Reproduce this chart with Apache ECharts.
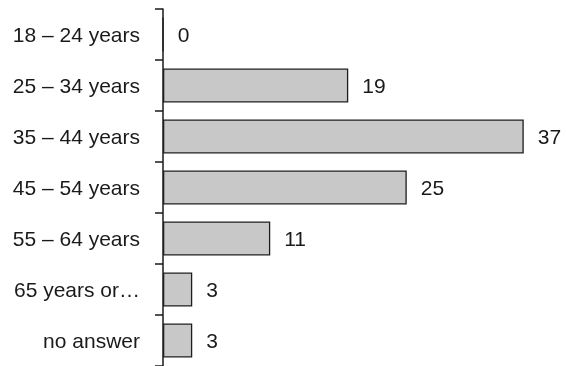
<!DOCTYPE html>
<html>
<head>
<meta charset="utf-8">
<script src="https://cdn.jsdelivr.net/npm/echarts@6/dist/echarts.min.js"></script>
<style>
html,body{margin:0;padding:0;background:#fff;}
#chart{width:566px;height:366px;}
</style>
</head>
<body>
<div id="chart"></div>
<script>
const categories = ["18 – 24 years", "25 – 34 years", "35 – 44 years", "45 – 54 years", "55 – 64 years", "65 years or…", "no answer"];
const values = [0, 19, 37, 25, 11, 3, 3];

const FONT = '"Liberation Sans", Arial, sans-serif';
const chart = echarts.init(document.getElementById('chart'), null, {renderer: 'canvas'});
chart.setOption({
  animation: false,
  backgroundColor: '#ffffff',
  grid: {left: 163, right: 13, top: 9, bottom: 0, containLabel: false},
  xAxis: {
    type: 'value', min: 0, max: 40, show: false
  },
  yAxis: {
    type: 'category',
    data: categories,
    inverse: true,
    axisLine: {show: true, lineStyle: {color: '#1a1a1a', width: 1.5}},
    axisTick: {show: true, length: 8, inside: false, lineStyle: {color: '#1a1a1a', width: 1.5}},
    axisLabel: {
      margin: 23, color: '#1a1a1a', fontSize: 21, fontFamily: FONT,
      formatter: '{a|{value}}',
      rich: {a: {color: '#1a1a1a', fontSize: 21, fontFamily: FONT, padding: [4, 0, 0, 0]}}
    },
    splitLine: {show: false}
  },
  series: [{
    type: 'bar',
    data: values,
    barWidth: 34,
    itemStyle: {color: '#c8c8c8', borderColor: '#1e1e1e', borderWidth: 1.3},
    label: {
      show: true, position: 'right', distance: 14, offset: [0, 1.5],
      color: '#1a1a1a', fontSize: 21, fontFamily: FONT
    }
  }]
});
</script>
</body>
</html>
